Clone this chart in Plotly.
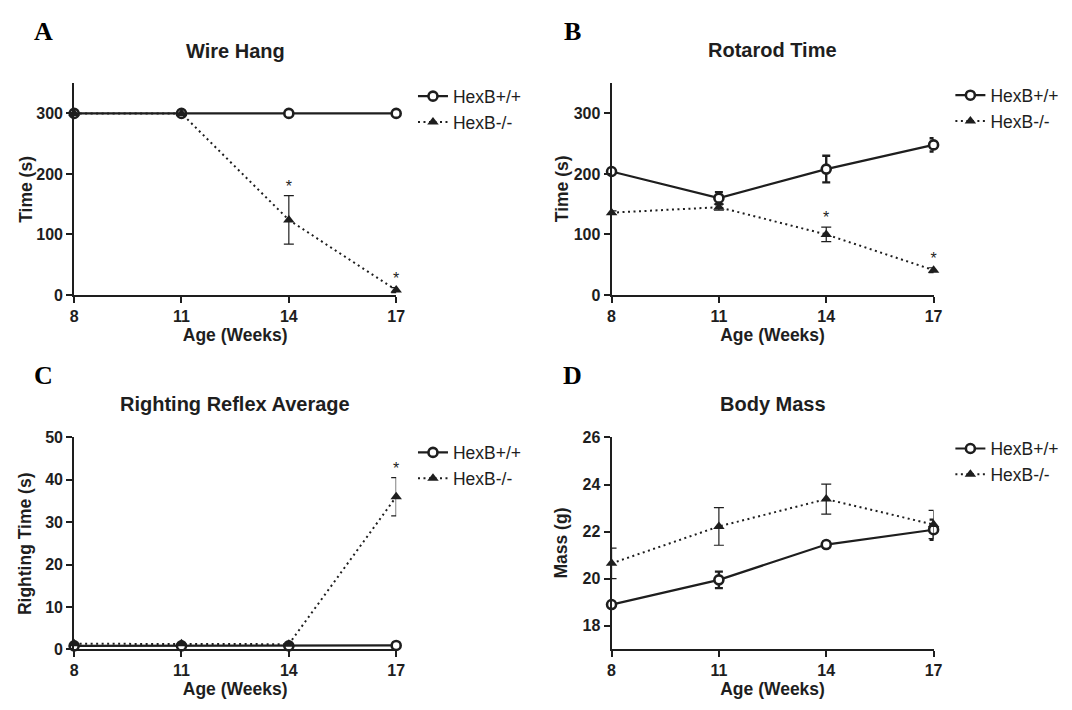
import plotly.graph_objects as go

# ---------------- data ----------------
weeks = [8, 11, 14, 17]
week_ticks = [8, 11, 14, 17]

wire_wt = [300, 300, 300, 300]
wire_wt_err = [0, 0, 0, 0]
wire_ko = [300, 300, 124, 8]
wire_ko_err = [0, 0, 40, 4]
wire_sig = [0, 0, 1, 1]

rota_wt = [204, 160, 208, 248]
rota_wt_err = [3, 10, 22, 11]
rota_ko = [136, 145, 100, 41]
rota_ko_err = [3, 5, 12, 4]
rota_sig = [0, 0, 1, 1]

right_wt = [0.8, 0.8, 0.8, 0.9]
right_wt_err = [0, 0, 0, 0]
right_ko = [1.3, 1.3, 1.2, 36]
right_ko_err = [0, 0, 0, 4.5]
right_sig = [0, 0, 0, 1]

mass_wt = [18.9, 19.95, 21.45, 22.08]
mass_wt_err = [0.1, 0.35, 0.12, 0.43]
mass_ko = [20.65, 22.22, 23.38, 22.3]
mass_ko_err = [0.65, 0.8, 0.64, 0.6]
mass_sig = [0, 0, 0, 0]

series_names = ["HexB+/+", "HexB-/-"]
panel_letters = ["A", "B", "C", "D"]
panel_titles = ["Wire Hang", "Rotarod Time", "Righting Reflex Average", "Body Mass"]
y_titles = ["Time (s)", "Time (s)", "Righting Time (s)", "Mass (g)"]
x_title = "Age (Weeks)"
y_ranges = [[0, 350], [0, 350], [0, 50], [17, 26]]
y_ticks = [[0, 100, 200, 300], [0, 100, 200, 300], [0, 10, 20, 30, 40, 50], [18, 20, 22, 24, 26]]

# ---------------- layout helpers ----------------
W, H = 1072, 710
INK = "#1e1e1e"
SANS = "Liberation Sans"
SERIF = "Liberation Serif"

def px_x(p):
    return p / W

def px_y(p):
    return 1 - p / H

# plot boxes in pixels: (left, right, top, bottom)
boxes = [(71, 397, 77, 294), (615, 941, 77, 294), (71, 397, 440, 657), (615, 941, 440, 657)]
ytitle_x = [22, 565, 22, 564]
title_y = [44, 43, 406, 406]
letter_pos = [(40, 24), (575, 24), (40, 377), (575, 377)]
legend_pos = [(414, 72), (958, 71), (414, 437), (958, 433)]

panels = [
    (wire_wt, wire_wt_err, wire_ko, wire_ko_err, wire_sig),
    (rota_wt, rota_wt_err, rota_ko, rota_ko_err, rota_sig),
    (right_wt, right_wt_err, right_ko, right_ko_err, right_sig),
    (mass_wt, mass_wt_err, mass_ko, mass_ko_err, mass_sig),
]

fig = go.Figure()
layout = dict(
    width=W, height=H,
    margin=dict(l=0, r=0, t=0, b=0),
    paper_bgcolor="white", plot_bgcolor="white",
    font=dict(family=SANS, color=INK),
    annotations=[],
)

for i, (wt, wt_err, ko, ko_err, sig) in enumerate(panels):
    n = i + 1
    xa = "x" if n == 1 else f"x{n}"
    ya = "y" if n == 1 else f"y{n}"
    leg = "legend" if n == 1 else f"legend{n}"

    fig.add_trace(go.Scatter(
        x=weeks, y=wt, name=series_names[0], xaxis=xa, yaxis=ya, legend=leg,
        mode="lines+markers", cliponaxis=False,
        line=dict(color=INK, width=2.2),
        marker=dict(symbol="circle", size=9, color="white", line=dict(color=INK, width=2.6)),
        error_y=dict(type="data", array=wt_err, visible=True, color=INK, thickness=2.4, width=4),
    ))
    fig.add_trace(go.Scatter(
        x=weeks, y=ko, name=series_names[1], xaxis=xa, yaxis=ya, legend=leg,
        mode="lines+markers", cliponaxis=False,
        line=dict(color=INK, width=2, dash="2px,3.5px"),
        marker=dict(symbol="triangle-up", size=10, color=INK, line=dict(width=0)),
        error_y=dict(type="data", array=ko_err, visible=True, color=INK, thickness=1.2, width=5),
    ))
    sx = [w for w, s in zip(weeks, sig) if s]
    sy = [k + e for k, e, s in zip(ko, ko_err, sig) if s]
    if sx:
        fig.add_trace(go.Scatter(
            x=sx, y=sy, text=["*"] * len(sx), mode="text", textposition="top center",
            textfont=dict(family=SANS, size=16, color=INK), cliponaxis=False,
            xaxis=xa, yaxis=ya, showlegend=False, hoverinfo="skip",
        ))

    l, r, t, b = boxes[i]
    axis_common = dict(
        showline=True, linewidth=2, linecolor=INK, mirror=False,
        ticks="outside", ticklen=6, tickwidth=2, tickcolor=INK,
        showgrid=False, zeroline=False,
        tickfont=dict(family=SANS, size=16, weight="bold", color=INK),
    )
    layout["xaxis" if n == 1 else f"xaxis{n}"] = dict(
        axis_common, domain=[px_x(l), px_x(r)], anchor=ya, range=[8, 17],
        tickvals=week_ticks,
        title=dict(text=x_title, font=dict(family=SANS, size=17.5, weight="bold", color=INK), standoff=4),
    )
    layout["yaxis" if n == 1 else f"yaxis{n}"] = dict(
        axis_common, domain=[px_y(b), px_y(t)], anchor=xa, range=y_ranges[i],
        tickvals=y_ticks[i],
    )
    lx, ly = legend_pos[i]
    layout[leg] = dict(
        x=px_x(lx), y=px_y(ly), xanchor="left", yanchor="top",
        font=dict(family=SANS, size=17.5, color=INK), bgcolor="rgba(0,0,0,0)",
        itemwidth=30, tracegroupgap=0,
    )
    # y-axis title
    layout["annotations"].append(dict(
        text=y_titles[i], xref="paper", yref="paper", textangle=-90,
        x=px_x(ytitle_x[i]), y=px_y((t + b) / 2), xanchor="center", yanchor="middle",
        showarrow=False, font=dict(family=SANS, size=17.5, weight="bold", color=INK),
    ))
    # panel title
    layout["annotations"].append(dict(
        text=panel_titles[i], xref="paper", yref="paper",
        x=px_x((l + r) / 2), y=px_y(title_y[i]), xanchor="center", yanchor="middle",
        showarrow=False, font=dict(family=SANS, size=20, weight="bold", color=INK),
    ))
    # panel letter
    lx2, ly2 = letter_pos[i]
    layout["annotations"].append(dict(
        text=panel_letters[i], xref="paper", yref="paper",
        x=px_x(lx2), y=px_y(ly2), xanchor="center", yanchor="middle",
        showarrow=False, font=dict(family=SERIF, size=26, weight="bold", color="black"),
    ))

fig.update_layout(**layout)

page_fix = (
    "document.documentElement.style.margin='0';document.body.style.margin='0';"
    "document.documentElement.style.overflow='hidden';document.body.style.overflow='hidden';"
)
fig.write_html("out.html", post_script=page_fix, config={"displayModeBar": False})
